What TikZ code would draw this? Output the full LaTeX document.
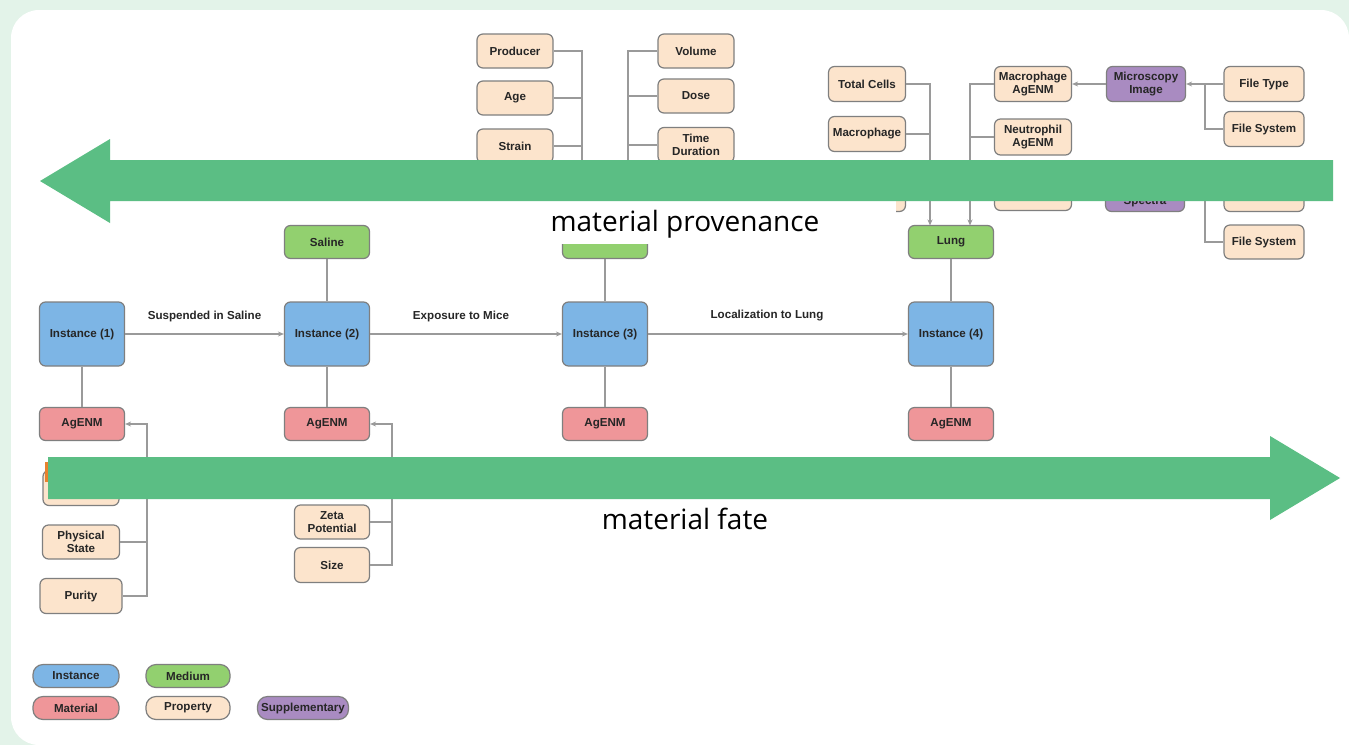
\documentclass[tikz,border=0pt]{standalone}
\usepackage{fontspec}
\setmainfont{Liberation Sans}
\newfontfamily\biglabelfont{Open Sans}
\usetikzlibrary{arrows.meta}
\definecolor{bggreen}{HTML}{E3F3E9}
\definecolor{arrowgreen}{HTML}{5BBE84}
\definecolor{instblue}{HTML}{7DB5E5}
\definecolor{matred}{HTML}{EF9699}
\definecolor{medgreen}{HTML}{92D06F}
\definecolor{propbeige}{HTML}{FCE4CC}
\definecolor{supppurple}{HTML}{A98BC1}
\definecolor{boxgray}{HTML}{7F7F7F}
\definecolor{linegray}{HTML}{9A9A9A}
\definecolor{textdark}{HTML}{262626}
\definecolor{remnant}{HTML}{E8822E}
\tikzset{
  nodefont/.style={font=\fontsize{11.6}{12.8}\selectfont\bfseries},
  box/.style={draw=boxgray, line width=1.2pt, rounded corners=6pt, align=center,
    inner sep=1.5pt, text=textdark, nodefont},
  inst/.style={box, fill=instblue, minimum width=85pt, minimum height=64pt},
  mat/.style={box, fill=matred, minimum width=85pt, minimum height=33pt},
  med/.style={box, fill=medgreen, minimum width=85pt, minimum height=33pt},
  prop/.style={box, fill=propbeige, minimum width=77pt, minimum height=35pt},
  supp/.style={box, fill=supppurple, minimum width=79pt, minimum height=35pt},
  pill/.style={draw=boxgray, line width=1.2pt, rounded corners=10pt, text=textdark,
    nodefont, minimum width=86pt, minimum height=23pt, inner sep=1pt},
  conn/.style={draw=linegray, line width=1.3pt},
  arr/.style={conn, -{Stealth[length=6pt,width=5pt]}},
  edgelab/.style={text=textdark, nodefont},
  biglab/.style={text=black, font=\biglabelfont\fontsize{28}{32}\selectfont},
  bigarrow/.style={fill=arrowgreen}
}
\begin{document}
\begin{tikzpicture}[x=1pt,y=-1pt]
\useasboundingbox (0,0) rectangle (1349,745);
% background and panel
\fill[bggreen] (0,0) rectangle (1349,745);
\fill[white] (1349,745) -- (1349,38) arc[start angle=0,end angle=90,radius=28pt]
  -- (39,10) arc[start angle=90,end angle=180,radius=28pt]
  -- (11,717) arc[start angle=180,end angle=270,radius=28pt] -- cycle;

% instances
\node[inst] (i1) at (82,334) {Instance (1)};
\node[inst] (i2) at (327,334) {Instance (2)};
\node[inst] (i3) at (605,334) {Instance (3)};
\node[inst] (i4) at (951,334) {Instance (4)};
% materials
\node[mat] (m1) at (82,424) {AgENM};
\node[mat] (m2) at (327,424) {AgENM};
\node[mat] (m3) at (605,424) {AgENM};
\node[mat] (m4) at (951,424) {AgENM};
% media
\node[med] (saline) at (327,242) {Saline};
\node[med] (med3) at (605,242) {};
\node[med] (lung) at (951,242) {Lung};

% instance connectors
\draw[arr] (i1) -- node[edgelab, yshift=18pt] {Suspended in Saline} (i2);
\draw[arr] (i2) -- node[edgelab, yshift=18pt, xshift=-5pt] {Exposure to Mice} (i3);
\draw[arr] (i3) -- node[edgelab, yshift=18pt, xshift=-11pt] {Localization to Lung} (i4);
\foreach \a/\b in {i1/m1, i2/m2, i3/m3, i4/m4, saline/i2, med3/i3, lung/i4}
  \draw[conn] (\a) -- (\b);

% AgENM (1) properties
\node[prop, minimum width=76pt] (p1hid) at (81,488) {};
\node[prop, minimum height=34pt] (phys) at (81,542) {Physical\\State};
\node[prop, minimum width=82pt] (purity) at (81,596) {Purity};
\coordinate (bus1) at (147,424);
\draw[arr] (purity.east) -| (bus1) -- (m1.east);
\draw[conn] (phys.east) -- (phys.east -| bus1);
\draw[conn] (p1hid.east) -- (p1hid.east -| bus1);

% AgENM (2) properties
\node[prop, minimum width=75pt, minimum height=34pt] (zeta) at (332,522) {Zeta\\Potential};
\node[prop, minimum width=75pt] (size) at (332,565) {Size};
\coordinate (bus2) at (392,424);
\draw[arr] (size.east) -| (bus2) -- (m2.east);
\draw[conn] (zeta.east) -- (zeta.east -| bus2);

% mice properties
\node[prop, minimum width=76pt, minimum height=34pt] (producer) at (515,51) {Producer};
\node[prop, minimum width=76pt, minimum height=34pt] (age) at (515,98) {Age};
\node[prop, minimum width=76pt, minimum height=34pt] (strain) at (515,146) {Strain};
\coordinate (bus3) at (582,225.5);
\draw[arr] (producer.east) -| (bus3);
\draw[conn] (age.east) -- (age.east -| bus3);
\draw[conn] (strain.east) -- (strain.east -| bus3);

\node[prop, minimum width=76pt, minimum height=34pt] (volume) at (696,51) {Volume};
\node[prop, minimum width=76pt, minimum height=34pt] (dose) at (696,96) {Dose};
\node[prop, minimum width=76pt, minimum height=35pt] (timed) at (696,145) {Time\\Duration};
\coordinate (bus4) at (628,225.5);
\draw[arr] (volume.west) -| (bus4);
\draw[conn] (dose.west) -- (dose.west -| bus4);
\draw[conn] (timed.west) -- (timed.west -| bus4);

% lung properties
\node[prop] (total) at (867,84) {Total Cells};
\node[prop] (macro) at (867,134) {Macrophage};
\node[prop] (tc3) at (867,194) {};
\coordinate (bus5) at (930,225.5);
\draw[arr] (total.east) -| (bus5);
\draw[conn] (macro.east) -- (macro.east -| bus5);
\draw[conn] (tc3.east) -- (tc3.east -| bus5);

\node[prop] (magenm) at (1033,84) {Macrophage\\AgENM};
\node[prop, minimum height=36pt] (nagenm) at (1033,137) {Neutrophil\\AgENM};
\node[prop] (ag3) at (1033,193) {};
\coordinate (bus6) at (970,225.5);
\draw[arr] (magenm.west) -| (bus6);
\draw[conn] (nagenm.west) -- (nagenm.west -| bus6);
\draw[conn] (ag3.west) -- (ag3.west -| bus6);

% supplementary
\node[supp] (micro) at (1146,84) {Microscopy\\Image};
\node[supp] (spectra) at (1145,194) {};
\node[edgelab] (spectratext) at (1145,202) {Spectra};
\draw[arr] (micro.west) -- (magenm.east);
\draw[arr] (spectra.west) -- (ag3.east);

\node[prop, minimum width=80pt] (filetype) at (1264,84) {File Type};
\node[prop, minimum width=80pt] (fsys1) at (1264,129) {File System};
\node[prop, minimum width=80pt] (fr3) at (1264,194) {};
\node[prop, minimum width=80pt, minimum height=34pt] (fsys2) at (1264,242) {File System};
\coordinate (j7) at (1205,84);
\coordinate (j8) at (1205,194);
\draw[arr] (filetype.west) -- (micro.east);
\draw[conn] (fsys1.west) -| (j7);
\draw[arr] (fr3.west) -- (spectra.east);
\draw[conn] (fsys2.west) -| (j8);

% legend
\node[pill, fill=instblue] (lgi) at (76,676) {Instance};
\node[pill, fill=medgreen, minimum width=84pt] (lgm) at (188,676) {Medium};
\node[pill, fill=matred] (lgmat) at (76,708) {Material};
\node[pill, fill=propbeige, minimum width=84pt] (lgp) at (188,708) {Property};
\node[pill, fill=supppurple, minimum width=91pt] (lgs) at (303,708) {Supplementary};

% overlay: label background, big arrows, labels
\fill[white] (474,201) rectangle (896,244);
\fill[remnant] (45,462) rectangle (49,482);
\fill[bigarrow] (1333,160) -- (110,160) -- (110,139) -- (40,181) -- (110,223)
  -- (110,201) -- (1333,201) -- cycle;
\fill[bigarrow] (48,457) -- (1270,457) -- (1270,436) -- (1340,478) -- (1270,520)
  -- (1270,499) -- (48,499) -- cycle;
\node[biglab] (prov) at (685,224) {material provenance};
\node[biglab] (fate) at (685,519) {material fate};
\end{tikzpicture}
\end{document}
